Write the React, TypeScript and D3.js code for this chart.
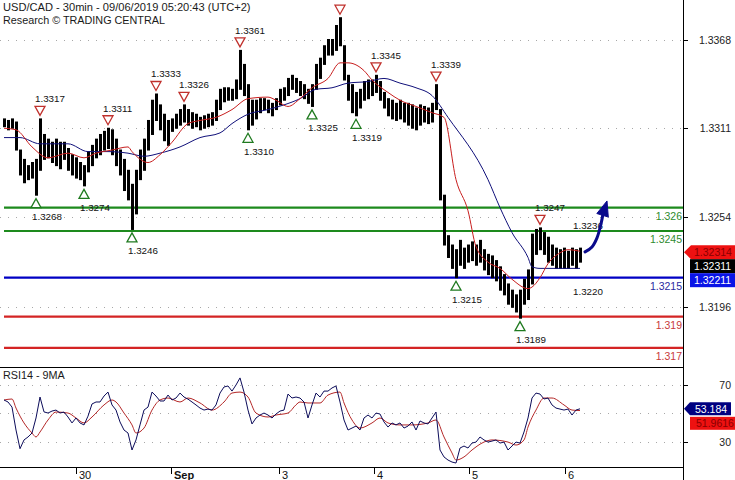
import React from "react";
import * as d3 from "d3";

// ---------- DATA ----------
const titleLine1 = "USD/CAD - 30min - 09/06/2019 05:20:43 (UTC+2)";
const titleLine2 = "Research © TRADING CENTRAL";
const rsiTitle = "RSI14 - 9MA";

const barHigh = [
  1.3317, 1.3316, 1.3317, 1.3315, 1.3297, 1.3291, 1.3287, 1.3289, 1.3291, 1.3317,
  1.3307, 1.3304, 1.3302, 1.3304, 1.3302, 1.3302, 1.3298, 1.3294, 1.3292, 1.3289,
  1.3287, 1.3296, 1.3300, 1.3304, 1.3307, 1.3309, 1.3311, 1.3310, 1.3304, 1.3297,
  1.3291, 1.3284, 1.3275, 1.3284, 1.3297, 1.3304, 1.3316, 1.3329, 1.3333, 1.3326,
  1.3320, 1.3316, 1.3317, 1.3320, 1.3323, 1.3326, 1.3323, 1.3321, 1.3320, 1.3318,
  1.3319, 1.3320, 1.3321, 1.3329, 1.3336, 1.3337, 1.3337, 1.3336, 1.3342, 1.3361,
  1.3352, 1.3339, 1.3329, 1.3329, 1.3330, 1.3330, 1.3329, 1.3327, 1.3330, 1.3336,
  1.3337, 1.3343, 1.3345, 1.3343, 1.3341, 1.3339, 1.3336, 1.3339, 1.3352, 1.3356,
  1.3364, 1.3368, 1.3368, 1.3377, 1.3382, 1.3364, 1.3345, 1.3339, 1.3334, 1.3336,
  1.3341, 1.3342, 1.3342, 1.3345, 1.3341, 1.3334, 1.3330, 1.3329, 1.3327, 1.3329,
  1.3327, 1.3327, 1.3326, 1.3324, 1.3326, 1.3325, 1.3324, 1.3327, 1.3339, 1.3323,
  1.3268, 1.3242, 1.3236, 1.3233, 1.3239, 1.3234, 1.3236, 1.3238, 1.3236, 1.3239,
  1.3233, 1.3230, 1.3229, 1.3226, 1.3222, 1.3217, 1.3211, 1.3207, 1.3204, 1.3207,
  1.3214, 1.3220, 1.3243, 1.3246, 1.3247, 1.3244, 1.3241, 1.3236, 1.3234, 1.3233,
  1.3234, 1.3232, 1.3234, 1.3233, 1.3234,
];
const barLow = [
  1.3312, 1.3310, 1.3311, 1.3297, 1.3281, 1.3276, 1.3278, 1.3279, 1.3268, 1.3284,
  1.3291, 1.3292, 1.3289, 1.3287, 1.3285, 1.3291, 1.3284, 1.3281, 1.3279, 1.3278,
  1.3274, 1.3283, 1.3287, 1.3292, 1.3294, 1.3297, 1.3298, 1.3294, 1.3287, 1.3281,
  1.3271, 1.3265, 1.3246, 1.3256, 1.3278, 1.3284, 1.3297, 1.3307, 1.3316, 1.3310,
  1.3303, 1.3300, 1.3309, 1.3311, 1.3313, 1.3315, 1.3313, 1.3311, 1.3312, 1.3310,
  1.3311, 1.3312, 1.3313, 1.3316, 1.3323, 1.3328, 1.3329, 1.3329, 1.3330, 1.3336,
  1.3332, 1.3310, 1.3313, 1.3317, 1.3321, 1.3323, 1.3321, 1.3319, 1.3323, 1.3326,
  1.3329, 1.3332, 1.3336, 1.3334, 1.3332, 1.3330, 1.3327, 1.3325, 1.3336, 1.3343,
  1.3352, 1.3358, 1.3358, 1.3361, 1.3364, 1.3342, 1.3329, 1.3321, 1.3319, 1.3324,
  1.3329, 1.3330, 1.3332, 1.3334, 1.3329, 1.3324, 1.3319, 1.3317, 1.3316, 1.3317,
  1.3315, 1.3313, 1.3311, 1.3310, 1.3313, 1.3315, 1.3314, 1.3315, 1.3323, 1.3265,
  1.3236, 1.3228, 1.3221, 1.3215, 1.3223, 1.3221, 1.3225, 1.3226, 1.3223, 1.3225,
  1.3220, 1.3217, 1.3215, 1.3213, 1.3207, 1.3204, 1.3198, 1.3196, 1.3193, 1.3189,
  1.3198, 1.3201, 1.3211, 1.3230, 1.3233, 1.3230, 1.3225, 1.3223, 1.3221, 1.3221,
  1.3221, 1.3221, 1.3223, 1.3221, 1.3225,
];

const fastMaBars = [0, 3, 7, 11, 16, 20, 23, 27, 31, 32, 36, 39, 42, 46, 49, 53, 57, 61, 66, 68, 71, 74, 77, 81, 84, 86, 90, 92, 96, 99, 103, 107, 110, 113, 116, 118, 121, 124, 127, 131, 132, 134, 136, 139, 141, 144];
const fastMaValues = [1.3311, 1.3310, 1.3299, 1.3292, 1.3295, 1.3292, 1.3295, 1.3297, 1.3299, 1.3296, 1.3289, 1.3294, 1.3302, 1.3314, 1.3316, 1.3318, 1.3323, 1.3330, 1.3331, 1.3329, 1.3325, 1.3330, 1.3337, 1.3343, 1.3353, 1.3353, 1.3348, 1.3342, 1.3334, 1.3329, 1.3325, 1.3321, 1.3318, 1.3278, 1.3258, 1.3235, 1.3225, 1.3221, 1.3214, 1.3208, 1.3209, 1.3215, 1.3224, 1.3231, 1.3233, 1.3232];

const slowMaBars = [0, 4, 9, 16, 21, 26, 31, 35, 39, 44, 49, 54, 57, 61, 66, 70, 74, 78, 82, 86, 91, 95, 99, 103, 107, 111, 121, 124, 127, 131, 132, 134, 139, 144];
const slowMaValues = [1.3305, 1.3305, 1.3301, 1.3301, 1.3296, 1.3296, 1.3295, 1.3293, 1.3295, 1.3299, 1.3305, 1.3308, 1.3314, 1.3320, 1.3323, 1.3326, 1.3330, 1.3336, 1.3337, 1.3340, 1.3341, 1.3343, 1.3340, 1.3337, 1.3332, 1.3318, 1.3278, 1.3260, 1.3244, 1.3228, 1.3222, 1.3221, 1.3221, 1.3221];

const rsiValues = [
  59.4, 58.0, 54.4, 38.2, 25.0, 31.2, 33.3, 36.1, 46.7, 61.5,
  51.0, 50.2, 51.6, 52.3, 50.2, 50.9, 47.4, 43.2, 46.7, 43.2,
  41.8, 48.0, 56.6, 58.0, 58.0, 62.2, 65.0, 55.9, 52.3, 43.9,
  38.2, 36.1, 24.1, 31.2, 41.8, 52.3, 54.4, 65.0, 62.2, 58.7,
  58.7, 62.9, 59.4, 60.8, 64.3, 61.5, 60.0, 58.0, 55.9, 53.7,
  52.3, 53.0, 52.3, 55.9, 64.3, 68.6, 69.3, 65.7, 70.0, 75.0,
  65.0, 52.3, 42.5, 46.7, 48.8, 50.2, 48.8, 46.7, 49.5, 51.6,
  52.3, 63.6, 60.8, 61.5, 60.8, 58.0, 46.7, 55.9, 64.3, 61.5,
  65.7, 65.7, 67.9, 69.3, 58.0, 45.3, 38.2, 39.6, 41.0, 38.2,
  46.7, 48.8, 46.7, 50.2, 49.5, 43.9, 40.3, 43.2, 41.8, 43.2,
  39.6, 41.0, 43.9, 38.2, 44.6, 43.2, 42.5, 46.7, 50.9, 24.1,
  19.2, 17.0, 15.6, 14.9, 25.5, 26.9, 25.5, 29.0, 29.7, 33.3,
  31.2, 29.7, 30.4, 31.2, 29.0, 29.7, 24.1, 26.9, 29.7, 29.0,
  36.8, 46.7, 60.8, 64.3, 63.6, 60.1, 60.8, 55.9, 53.7, 53.0,
  52.3, 53.0, 48.8, 52.3, 53.184,
];
const rsiMaBars = [0, 2, 3, 5, 7, 8, 9, 11, 13, 16, 18, 20, 22, 25, 27, 28, 30, 32, 33, 35, 37, 39, 41, 44, 46, 49, 52, 55, 57, 59, 61, 63, 66, 68, 71, 73, 74, 76, 79, 81, 84, 85, 87, 89, 92, 94, 96, 99, 102, 106, 108, 110, 112, 113, 115, 117, 120, 122, 126, 128, 130, 131, 133, 135, 137, 140, 142, 144];
const rsiMaValues = [59.4, 60.1, 53.7, 43.2, 36.1, 33.3, 36.8, 45.3, 50.9, 50.2, 46.7, 43.2, 47.4, 55.9, 59.4, 58.0, 50.2, 41.8, 36.1, 39.6, 52.3, 59.4, 60.8, 58.0, 60.8, 57.3, 52.3, 58.0, 64.3, 65.0, 61.5, 50.2, 47.4, 48.8, 50.2, 56.0, 58.0, 57.3, 57.3, 62.9, 65.0, 57.3, 45.3, 39.6, 43.2, 46.7, 43.2, 41.8, 41.8, 43.2, 45.3, 33.3, 22.0, 17.0, 19.2, 24.1, 29.7, 31.2, 29.7, 27.6, 31.2, 40.3, 52.3, 60.8, 60.8, 55.9, 52.3, 51.9616];

const swingHighBars = [9, 26, 38, 45, 59, 84, 93, 108, 134];
const swingHighPrices = [1.3317, 1.3311, 1.3333, 1.3326, 1.3361, 1.3382, 1.3345, 1.3339, 1.3247];
const swingLowBars = [8, 20, 32, 61, 77, 88, 113, 129];
const swingLowPrices = [1.3268, 1.3274, 1.3246, 1.3310, 1.3325, 1.3319, 1.3215, 1.3189];
const pendingHighBar = 143.25;
const pendingHighPrice = 1.3236;
const pendingLowBar = 143.25;
const pendingLowPrice = 1.322;

const levelPrices = [1.326, 1.3245, 1.3215, 1.319, 1.317];
const levelLabels = ["1.326", "1.3245", "1.3215", "1.319", "1.317"];
const levelKinds = ["resistance", "resistance", "pivot", "support", "support"];

const arrowBars = [145.25, 147, 148.25, 149.25, 149.75];
const arrowPrices = [1.32316, 1.32348, 1.32406, 1.32496, 1.3256];
const arrowTipBar = 150.75;
const arrowTipPrice = 1.32643;

const priceTicks = [1.3368, 1.3311, 1.3254, 1.3196];
const rsiGrid = [70, 50, 30];
const rsiTickLabels = [70, 30];
const dayTickBars = [18, 41.75, 68.75, 92.5, 116.25, 140.25];
const dayTickLabels = ["30", "Sep", "3", "4", "5", "6"];

const lastAsk = 1.32314;
const lastClose = 1.32311;
const pivotPrice = 1.32211;
const rsiLast = 53.184;
const rsiMaLast = 51.9616;

// ---------- CHART ----------
const FONT = '"Liberation Sans", Arial, sans-serif';
const AXIS_X = 683;
const MAIN_BOTTOM = 367;
const RSI_BOTTOM = 467;

export default function App() {
  const X = d3.scaleLinear().domain([0, 144]).range([4, 580]);
  const Y = d3.scaleLinear().domain([1.315766, 1.339337]).range([MAIN_BOTTOM, 0]);
  const R = d3.scaleLinear().domain([12.1, 82.7]).range([RSI_BOTTOM, MAIN_BOTTOM]);

  const priceLine = d3
    .line<[number, number]>()
    .x((d) => X(d[0]))
    .y((d) => Y(d[1]))
    .curve(d3.curveMonotoneX);
  const rsiLineStraight = d3
    .line<[number, number]>()
    .x((d) => X(d[0]))
    .y((d) => R(d[1]));
  const rsiLineSmooth = d3
    .line<[number, number]>()
    .x((d) => X(d[0]))
    .y((d) => R(d[1]))
    .curve(d3.curveMonotoneX);

  const fastPath = priceLine(fastMaBars.map((b, i) => [b, fastMaValues[i]]) as [number, number][]) || "";
  const slowPath = priceLine(slowMaBars.map((b, i) => [b, slowMaValues[i]]) as [number, number][]) || "";
  const rsiPath = rsiLineStraight(rsiValues.map((v, i) => [i, v]) as [number, number][]) || "";
  const rsiMaPath = rsiLineSmooth(rsiMaBars.map((b, i) => [b, rsiMaValues[i]]) as [number, number][]) || "";

  const arrowPath =
    d3
      .line<[number, number]>()
      .x((d) => X(d[0]))
      .y((d) => Y(d[1]))
      .curve(d3.curveCatmullRom)(arrowBars.map((b, i) => [b, arrowPrices[i]]) as [number, number][]) || "";
  const tipX = X(arrowTipBar);
  const tipY = Y(arrowTipPrice);
  const baseX0 = X(arrowBars[arrowBars.length - 1]);
  const baseY0 = Y(arrowPrices[arrowPrices.length - 1]);
  const dx = tipX - baseX0;
  const dy = tipY - baseY0;
  const len = Math.hypot(dx, dy);
  const ux = dx / len;
  const uy = dy / len;
  const headLen = 15;
  const headHalf = 6;
  const bcx = tipX - ux * headLen;
  const bcy = tipY - uy * headLen;
  const head = [
    [tipX, tipY],
    [bcx - uy * headHalf, bcy + ux * headHalf],
    [bcx + uy * headHalf, bcy - ux * headHalf],
  ]
    .map((p) => p.join(","))
    .join(" ");

  const levelColor: Record<string, string> = {
    resistance: "#1d8a1d",
    pivot: "#0000c4",
    support: "#d42424",
  };
  const levelText: Record<string, string> = {
    resistance: "#2e8b2e",
    pivot: "#2a2aa0",
    support: "#c83a3a",
  };

  const triDown = (cx: number, cy: number) =>
    `${cx - 5},${cy - 4.5} ${cx + 5},${cy - 4.5} ${cx},${cy + 4.5}`;
  const triUp = (cx: number, cy: number) =>
    `${cx - 5},${cy + 4.5} ${cx + 5},${cy + 4.5} ${cx},${cy - 4.5}`;

  const tagY = Y(lastAsk);
  const rTagY = R(rsiLast);

  return (
    <svg
      width={735}
      height={480}
      viewBox="0 0 735 480"
      style={{ position: "absolute", left: 0, top: 0, background: "#fff" }}
      fontFamily={FONT}
    >
      <defs>
        <clipPath id="mainClip">
          <rect x={0} y={0} width={AXIS_X} height={MAIN_BOTTOM} />
        </clipPath>
        <clipPath id="rsiClip">
          <rect x={0} y={MAIN_BOTTOM} width={AXIS_X} height={RSI_BOTTOM - MAIN_BOTTOM} />
        </clipPath>
      </defs>
      <rect x={0} y={0} width={735} height={480} fill="#fff" />

      {/* main grid */}
      {priceTicks.map((p) => (
        <line
          key={"g" + p}
          x1={0}
          x2={AXIS_X}
          y1={Math.round(Y(p)) + 0.5}
          y2={Math.round(Y(p)) + 0.5}
          stroke="#a8a8a8"
          strokeDasharray="1 7"
        />
      ))}

      <g clipPath="url(#mainClip)">
        {/* level lines */}
        {levelPrices.map((p, i) => (
          <line
            key={"lv" + i}
            x1={4}
            x2={AXIS_X}
            y1={Y(p)}
            y2={Y(p)}
            stroke={levelColor[levelKinds[i]]}
            strokeWidth={2.2}
          />
        ))}
        {levelPrices.map((p, i) => (
          <text
            key={"lvt" + i}
            x={AXIS_X - 1}
            y={Y(p) + 12}
            textAnchor="end"
            fontSize={10.5}
            fill={levelText[levelKinds[i]]}
          >
            {levelLabels[i]}
          </text>
        ))}

        {/* bars */}
        {barHigh.map((h, i) => (
          <rect
            key={"b" + i}
            x={X(i) - 1}
            width={3}
            y={Y(h) - 0.5}
            height={Y(barLow[i]) - Y(h) + 1}
            fill="#000"
          />
        ))}

        {/* moving averages */}
        <path d={slowPath} fill="none" stroke="#10107a" strokeWidth={1} />
        <path d={fastPath} fill="none" stroke="#c81e1e" strokeWidth={1} />

        {/* swing markers */}
        {swingHighBars.map((b, i) => {
          const cx = X(b);
          const py = Y(swingHighPrices[i]);
          const ly = py - 20;
          return (
            <g key={"sh" + i}>
              <polygon points={triDown(cx, py - 8)} fill="#fff" stroke="#c0302c" strokeWidth={1.3} />
              {ly > 6 && (
                <text x={cx - 5} y={ly + 3.5} fontSize={9.8} fill="#111">
                  {swingHighPrices[i].toFixed(4)}
                </text>
              )}
            </g>
          );
        })}
        {swingLowBars.map((b, i) => {
          const cx = X(b);
          const py = Y(swingLowPrices[i]);
          return (
            <g key={"sl" + i}>
              <polygon points={triUp(cx, py + 8)} fill="#fff" stroke="#1f7a1f" strokeWidth={1.3} />
              <text x={cx - 4} y={py + 21.5 + 3.5} fontSize={9.8} fill="#111">
                {swingLowPrices[i].toFixed(4)}
              </text>
            </g>
          );
        })}
        <text x={X(pendingHighBar) - 4} y={Y(pendingHighPrice) - 20 + 3.5} fontSize={9.8} fill="#111">
          {pendingHighPrice.toFixed(4)}
        </text>
        <text x={X(pendingLowBar) - 4} y={Y(pendingLowPrice) + 21.5 + 3.5} fontSize={9.8} fill="#111">
          {pendingLowPrice.toFixed(4)}
        </text>

        {/* forecast arrow */}
        <path d={arrowPath} fill="none" stroke="#0a0a8c" strokeWidth={3} strokeLinecap="round" />
        <polygon points={head} fill="#0a0a8c" stroke="#0a0a8c" strokeWidth={1} />
      </g>

      {/* titles */}
      <text x={3} y={11} fontSize={11.1} fill="#1a1a1a">
        {titleLine1}
      </text>
      <text x={3} y={24} fontSize={10.8} fill="#1a1a1a">
        {titleLine2}
      </text>

      {/* RSI panel */}
      {rsiGrid.map((v) => (
        <line
          key={"rg" + v}
          x1={0}
          x2={AXIS_X}
          y1={Math.round(R(v)) + 0.5}
          y2={Math.round(R(v)) + 0.5}
          stroke="#a8a8a8"
          strokeDasharray="1 7"
        />
      ))}
      <g clipPath="url(#rsiClip)">
        <path d={rsiMaPath} fill="none" stroke="#b42828" strokeWidth={1} />
        <path d={rsiPath} fill="none" stroke="#0c0c5a" strokeWidth={1} />
      </g>
      <text x={3} y={379} fontSize={10.8} fill="#1a1a1a">
        {rsiTitle}
      </text>

      {/* panel borders */}
      <line x1={0} x2={AXIS_X} y1={MAIN_BOTTOM + 0.5} y2={MAIN_BOTTOM + 0.5} stroke="#000" />
      <line x1={0} x2={AXIS_X} y1={RSI_BOTTOM + 0.5} y2={RSI_BOTTOM + 0.5} stroke="#000" />
      <line x1={AXIS_X + 0.5} x2={AXIS_X + 0.5} y1={0} y2={480} stroke="#000" />

      {/* price axis */}
      {priceTicks.map((p) => (
        <g key={"pt" + p}>
          <line x1={AXIS_X} x2={AXIS_X + 5} y1={Math.round(Y(p)) + 0.5} y2={Math.round(Y(p)) + 0.5} stroke="#000" />
          <text x={731} y={Y(p) + 4} textAnchor="end" fontSize={10.5} fill="#222">
            {p.toFixed(4)}
          </text>
        </g>
      ))}
      {rsiTickLabels.map((v) => (
        <g key={"rt" + v}>
          <line x1={AXIS_X} x2={AXIS_X + 5} y1={Math.round(R(v)) + 0.5} y2={Math.round(R(v)) + 0.5} stroke="#000" />
          <text x={731} y={R(v) + 4} textAnchor="end" fontSize={10.5} fill="#222">
            {v}
          </text>
        </g>
      ))}

      {/* price tags */}
      <polygon
        points={`${AXIS_X + 1},${tagY} ${AXIS_X + 8},${tagY - 7} 735,${tagY - 7} 735,${tagY + 7} ${AXIS_X + 8},${tagY + 7}`}
        fill="#ee1111"
      />
      <text x={694} y={tagY + 4} fontSize={10.5} fill="#8a0000">
        {lastAsk.toFixed(5)}
      </text>
      <rect x={690} y={tagY + 7} width={45} height={14} fill="#000" />
      <text x={694} y={tagY + 18} fontSize={10.5} fill="#fff">
        {lastClose.toFixed(5)}
      </text>
      <rect x={690} y={tagY + 21} width={45} height={14} fill="#0a14e6" />
      <text x={694} y={tagY + 32} fontSize={10.5} fill="#fff">
        {pivotPrice.toFixed(5)}
      </text>

      {/* rsi tags */}
      <polygon
        points={`${AXIS_X + 1},${rTagY} ${AXIS_X + 7},${rTagY - 6.5} 731,${rTagY - 6.5} 731,${rTagY + 6.5} ${AXIS_X + 7},${rTagY + 6.5}`}
        fill="#000080"
      />
      <text x={695} y={rTagY + 4} fontSize={10.5} fill="#fff">
        {String(rsiLast)}
      </text>
      <rect x={690} y={rTagY + 8} width={45} height={13} fill="#ee1111" />
      <text x={696} y={rTagY + 18.5} fontSize={10.5} fill="#8a0000">
        {String(rsiMaLast)}
      </text>

      {/* date axis */}
      {dayTickBars.map((b, i) => (
        <g key={"d" + i}>
          <line x1={Math.round(X(b)) + 0.5} x2={Math.round(X(b)) + 0.5} y1={RSI_BOTTOM} y2={RSI_BOTTOM + 7} stroke="#000" />
          <text
            x={X(b) + 3}
            y={479}
            fontSize={11}
            fontWeight={dayTickLabels[i] === "Sep" ? "bold" : "normal"}
            fill="#111"
          >
            {dayTickLabels[i]}
          </text>
        </g>
      ))}
    </svg>
  );
}
